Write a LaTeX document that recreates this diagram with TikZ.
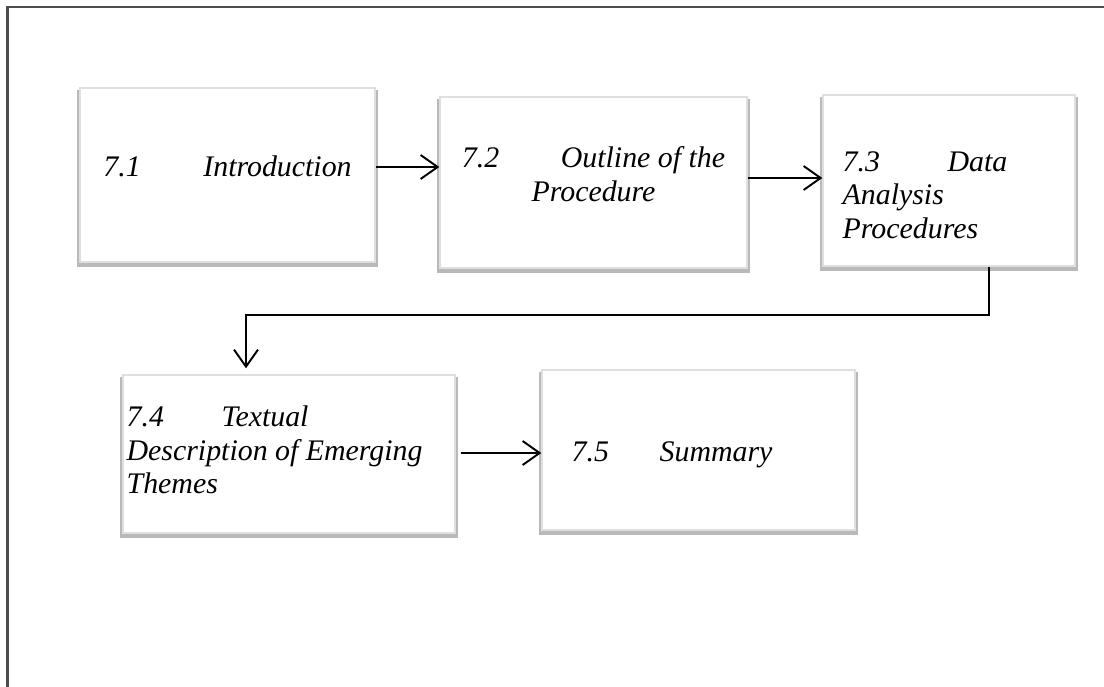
\documentclass[tikz,border=0pt]{standalone}
\usepackage{fontspec}
\setmainfont{Liberation Serif}
\usetikzlibrary{arrows.meta, positioning, shadows}
\newcommand{\secno}[2][2cm]{\makebox[#1][l]{#2}}
\tikzset{
  chapbox/.style={draw=gray!25, fill=white, line width=0.8pt, inner sep=0pt,
    general shadow={fill=gray!55, shadow yshift=-0.07cm, shadow scale=1.02}},
  chaptext/.style={inner sep=0pt, align=left, font=\fontsize{17}{19}\selectfont\itshape},
  flow/.style={-{Straight Barb[length=0.34cm, width=0.48cm]}, line width=1.1pt}
}
\begin{document}
\begin{tikzpicture}
        \useasboundingbox (0,0) rectangle (22.08,-13.74);
        \draw[line width=1.2pt, gray!60!black] (0.15,-13.74) -- (0.15,-0.14) -- (22.08,-0.14);
        % first row
        \node[chapbox, minimum width=5.9cm, minimum height=3.48cm] (intro) at (4.55,-3.5) {};
        \node[chapbox, minimum width=6.14cm, minimum height=3.42cm] (outline) at (11.87,-3.65) {};
        \node[chapbox, minimum width=5.04cm, minimum height=3.42cm] (analysis) at (18.98,-3.61) {};
        \node[chaptext] (introtxt) at ([yshift=0.18cm]intro.center) {\secno{7.1}Introduction};
        \node[chaptext, align=center] (outlinetxt) at ([yshift=0.17cm]outline.center) {\secno[1.98cm]{7.2}Outline of the\\Procedure};
        \node[chaptext, anchor=west] (analysistxt) at ([xshift=0.4cm,yshift=-0.29cm]analysis.west) {\secno[2.1cm]{7.3}Data\\Analysis\\Procedures};
        % second row
        \node[chapbox, minimum width=6.64cm, minimum height=3.16cm] (themes) at (5.78,-9.08) {};
        \node[chapbox, minimum width=6.26cm, minimum height=3.2cm] (summary) at (13.97,-9.0) {};
        \node[chaptext, anchor=west] (themestxt) at ([xshift=0.08cm,yshift=0.08cm]themes.west) {\secno[1.9cm]{7.4}Textual\\Description of Emerging\\Themes};
        \node[chaptext, anchor=west] (summarytxt) at ([xshift=0.6cm,yshift=-0.1cm]summary.west) {\secno[1.76cm]{7.5}Summary};
        % connectors
        \draw[flow] ([yshift=0.16cm]intro.east) -- ([yshift=0.16cm]intro.east -| outline.west);
        \draw[flow] ([yshift=0.09cm]outline.east) -- ([yshift=0.09cm]outline.east -| analysis.west);
        \draw[flow] ([xshift=0.8cm]analysis.south) -- ++(0,-0.96) -| ([xshift=-0.86cm,yshift=0.12cm]themes.north);
        \draw[flow, shorten <=0.1cm] ([yshift=0.02cm]themes.east) -- ([yshift=0.02cm]themes.east -| summary.west);
      \end{tikzpicture}
\end{document}
